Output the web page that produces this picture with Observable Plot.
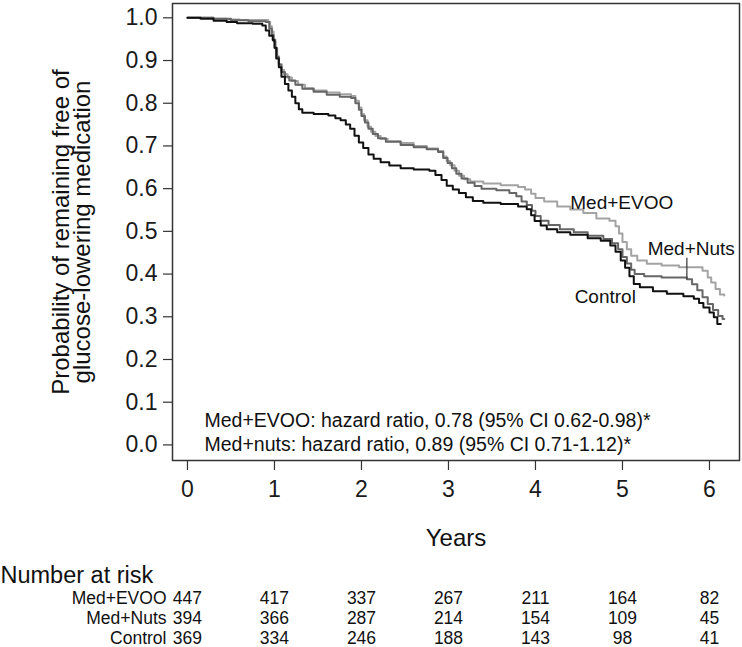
<!DOCTYPE html>
<html>
<head>
<meta charset="utf-8">
<script src="https://cdn.jsdelivr.net/npm/d3@7"></script>
<script src="https://cdn.jsdelivr.net/npm/@observablehq/plot@0.6"></script>
<style>
  body { margin: 0; background: #fff; font-family: "Liberation Sans", Arial, sans-serif; }
  #chart svg { display: block; }
</style>
</head>
<body>
<div id="chart"></div>
<script>
// ---------- data ----------
const groups = ["Med+EVOO", "Med+Nuts", "Control"];
const colors = ["#a3a3a3", "#666666", "#111111"];

const evooT = [0, 0.30, 0.45, 0.60, 0.93, 0.95, 0.97, 0.99, 1.01, 1.03, 1.05, 1.08, 1.11, 1.15, 1.20, 1.27, 1.35, 1.45, 1.60, 1.75, 1.88, 1.93, 1.97, 2.00, 2.03, 2.07, 2.11, 2.16, 2.22, 2.30, 2.45, 2.60, 2.75, 2.88, 2.94, 2.98, 3.02, 3.07, 3.12, 3.18, 3.25, 3.40, 3.60, 3.80, 3.88, 3.95, 4.00, 4.10, 4.25, 4.40, 4.55, 4.70, 4.85, 4.92, 4.96, 5.00, 5.05, 5.10, 5.17, 5.28, 5.45, 5.65, 5.92, 5.98, 6.02, 6.07, 6.12, 6.17];
const evooS = [1.0, 0.998, 0.996, 0.995, 0.990, 0.980, 0.968, 0.950, 0.930, 0.910, 0.892, 0.878, 0.868, 0.860, 0.852, 0.843, 0.835, 0.830, 0.825, 0.821, 0.817, 0.806, 0.790, 0.775, 0.760, 0.745, 0.733, 0.723, 0.716, 0.711, 0.707, 0.700, 0.694, 0.688, 0.675, 0.665, 0.655, 0.642, 0.630, 0.622, 0.617, 0.612, 0.608, 0.604, 0.598, 0.588, 0.578, 0.570, 0.558, 0.551, 0.543, 0.530, 0.525, 0.512, 0.495, 0.475, 0.458, 0.443, 0.432, 0.424, 0.420, 0.416, 0.408, 0.392, 0.380, 0.365, 0.352, 0.350];

const nutsT = [0, 0.30, 0.50, 0.70, 0.90, 0.94, 0.97, 0.99, 1.01, 1.03, 1.05, 1.08, 1.12, 1.17, 1.24, 1.32, 1.45, 1.60, 1.75, 1.88, 1.93, 1.97, 2.00, 2.04, 2.08, 2.13, 2.19, 2.28, 2.45, 2.60, 2.75, 2.88, 2.94, 2.99, 3.04, 3.09, 3.15, 3.22, 3.30, 3.38, 3.55, 3.70, 3.78, 3.84, 3.90, 3.96, 4.00, 4.06, 4.15, 4.28, 4.44, 4.60, 4.78, 4.88, 4.95, 5.00, 5.05, 5.10, 5.14, 5.25, 5.45, 5.74, 5.80, 5.86, 5.92, 5.98, 6.04, 6.10, 6.15, 6.17];
const nutsS = [1.0, 0.998, 0.994, 0.992, 0.990, 0.975, 0.960, 0.945, 0.928, 0.908, 0.890, 0.873, 0.862, 0.853, 0.843, 0.834, 0.827, 0.820, 0.815, 0.812, 0.800, 0.785, 0.770, 0.755, 0.740, 0.728, 0.718, 0.710, 0.702, 0.697, 0.692, 0.686, 0.672, 0.660, 0.648, 0.635, 0.624, 0.614, 0.606, 0.600, 0.596, 0.590, 0.582, 0.570, 0.562, 0.548, 0.536, 0.525, 0.515, 0.505, 0.498, 0.490, 0.482, 0.472, 0.458, 0.440, 0.425, 0.410, 0.400, 0.395, 0.392, 0.388, 0.376, 0.362, 0.346, 0.330, 0.316, 0.302, 0.295, 0.295];

const controlT = [0, 0.15, 0.30, 0.45, 0.57, 0.75, 0.86, 0.90, 0.94, 0.98, 1.00, 1.02, 1.05, 1.08, 1.12, 1.16, 1.20, 1.24, 1.28, 1.32, 1.45, 1.62, 1.70, 1.76, 1.82, 1.87, 1.92, 1.97, 2.02, 2.08, 2.14, 2.22, 2.32, 2.45, 2.60, 2.78, 2.85, 2.92, 2.98, 3.05, 3.12, 3.20, 3.28, 3.40, 3.60, 3.80, 3.90, 3.95, 3.99, 4.06, 4.13, 4.25, 4.40, 4.60, 4.75, 4.86, 4.92, 4.98, 5.03, 5.08, 5.13, 5.20, 5.35, 5.51, 5.70, 5.82, 5.88, 5.93, 6.00, 6.05, 6.09, 6.13];
const controlS = [1.0, 0.998, 0.993, 0.990, 0.987, 0.986, 0.982, 0.970, 0.958, 0.948, 0.930, 0.905, 0.884, 0.862, 0.845, 0.830, 0.815, 0.800, 0.786, 0.778, 0.775, 0.771, 0.765, 0.760, 0.750, 0.740, 0.724, 0.708, 0.695, 0.680, 0.670, 0.662, 0.654, 0.648, 0.645, 0.642, 0.632, 0.620, 0.607, 0.598, 0.590, 0.580, 0.571, 0.567, 0.564, 0.558, 0.552, 0.538, 0.524, 0.514, 0.505, 0.498, 0.492, 0.484, 0.478, 0.467, 0.452, 0.432, 0.415, 0.395, 0.377, 0.369, 0.360, 0.354, 0.348, 0.342, 0.332, 0.322, 0.310, 0.299, 0.283, 0.283];

const riskTimes = [0, 1, 2, 3, 4, 5, 6];
const riskEvoo = [447, 417, 337, 267, 211, 164, 82];
const riskNuts = [394, 366, 287, 214, 154, 109, 45];
const riskControl = [369, 334, 246, 188, 143, 98, 41];

const xTicks = [0, 1, 2, 3, 4, 5, 6];
const yTicks = [0, 0.1, 0.2, 0.3, 0.4, 0.5, 0.6, 0.7, 0.8, 0.9, 1.0];

const yTitle = "Probability of remaining free of\nglucose-lowering medication";
const xTitle = "Years";
const riskTitle = "Number at risk";
const hrLines = [
  "Med+EVOO: hazard ratio, 0.78 (95% CI 0.62-0.98)*",
  "Med+nuts: hazard ratio, 0.89 (95% CI 0.71-1.12)*"
];
// curve label anchors (in data units: years, probability)
const labelGroup = ["Med+EVOO", "Med+Nuts", "Control"];
const labelT = [4.40, 5.29, 4.45];
const labelS = [0.567, 0.460, 0.347];
// leader line from "Med+Nuts" label to its curve
const leaderT = 5.74;
const leaderS1 = 0.438;
const leaderS2 = 0.389;

// ---------- build tables ----------
const zip = (g, T, S) => T.map((t, i) => ({group: g, t, s: S[i]}));
const curves = [
  ...zip("Med+EVOO", evooT, evooS),
  ...zip("Med+Nuts", nutsT, nutsS),
  ...zip("Control", controlT, controlS)
];
const riskRows = [riskEvoo, riskNuts, riskControl];
const risk = groups.flatMap((g, gi) => riskTimes.map((t, i) => ({group: g, t, n: riskRows[gi][i]})));
const labels = labelGroup.map((g, i) => ({group: g, t: labelT[i], s: labelS[i]}));

const FONT = "'Liberation Sans', Arial, Helvetica, sans-serif";
const xDomain = [-0.172, 6.345];

const main = Plot.plot({
  width: 742,
  height: 560,
  marginLeft: 172,
  marginRight: 3,
  marginTop: 3,
  marginBottom: 100,
  x: {domain: xDomain},
  y: {domain: [-0.0365, 1.0335]},
  color: {domain: groups, range: colors},
  style: {fontFamily: FONT, color: "#1a1a1a", background: "#fff", overflow: "visible"},
  marks: [
    Plot.frame({stroke: "#333", strokeWidth: 1.5}),
    Plot.axisY({ticks: yTicks, tickFormat: d => d.toFixed(1), tickSize: 9, tickPadding: 6, fontSize: 23, label: null, strokeWidth: 1.2, stroke: "#333"}),
    Plot.axisX({ticks: xTicks, tickFormat: d => String(d), tickSize: 10, tickPadding: 10, fontSize: 23, label: null, strokeWidth: 1.2, stroke: "#333"}),
    Plot.line(curves, {x: "t", y: "s", z: "group", stroke: "group", curve: "step-after", strokeWidth: 2}),
    Plot.text(labels, {x: "t", y: "s", text: "group", textAnchor: "start", lineAnchor: "middle", fontSize: 19, fill: "#111"}),
    Plot.link([{t: leaderT, s1: leaderS1, s2: leaderS2}], {x1: "t", x2: "t", y1: "s1", y2: "s2", stroke: "#333", strokeWidth: 1.2}),
    Plot.text([hrLines[0]], {frameAnchor: "bottom-left", dx: 32, dy: -40, textAnchor: "start", lineAnchor: "middle", fontSize: 19.5, fill: "#111"}),
    Plot.text([hrLines[1]], {frameAnchor: "bottom-left", dx: 32, dy: -16, textAnchor: "start", lineAnchor: "middle", fontSize: 19.5, fill: "#111"}),
    Plot.text([yTitle], {frameAnchor: "left", rotate: -90, dx: -100, textAnchor: "middle", lineAnchor: "middle", lineHeight: 0.88, fontSize: 24, fill: "#111"}),
    Plot.text([xTitle], {frameAnchor: "bottom", dy: 78, lineAnchor: "middle", fontSize: 24, fill: "#111"})
  ]
});

const table = Plot.plot({
  width: 742,
  height: 87,
  marginLeft: 172,
  marginRight: 3,
  marginTop: 38,
  marginBottom: 9,
  x: {domain: xDomain, axis: null},
  y: {type: "point", domain: groups, padding: 0, axis: null},
  style: {fontFamily: FONT, color: "#111", background: "#fff", overflow: "visible"},
  marks: [
    Plot.text(risk, {x: "t", y: "group", text: "n", lineAnchor: "middle", fontSize: 17.5}),
    Plot.text(groups, {y: d => d, text: d => d, frameAnchor: "left", textAnchor: "end", lineAnchor: "middle", dx: -6, fontSize: 17.5}),
    Plot.text([riskTitle], {frameAnchor: "top-left", dx: -172, dy: -23, textAnchor: "start", lineAnchor: "middle", fontSize: 23.5})
  ]
});

const el = document.getElementById("chart");
el.append(main, table);
</script>
</body>
</html>
